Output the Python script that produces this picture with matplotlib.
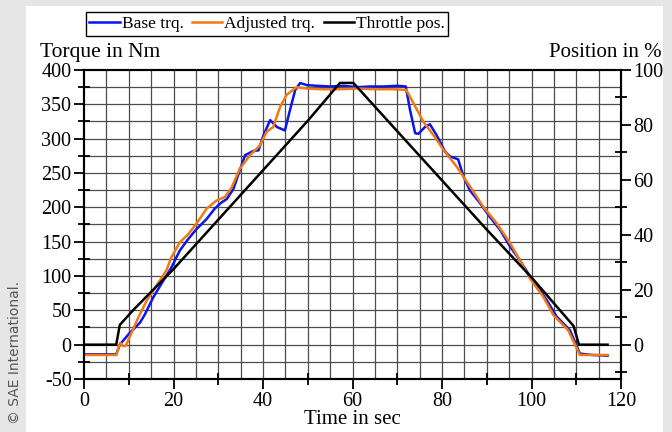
import matplotlib
matplotlib.use("Agg")
import matplotlib.pyplot as plt
from matplotlib.patches import Rectangle
from matplotlib.ticker import MultipleLocator

# Base torque (Nm) over time (s)
t_base = [0, 7.2, 8.0, 10.2, 12.5, 13.6, 15.4, 17.7, 19.5, 21.4, 23.3, 25.1, 27.4,
          29.2, 30.7, 31.9, 33.4, 34.8, 36.0, 37.8, 39.0, 40.1, 41.6, 43.1, 44.9,
          46.0, 47.2, 48.3, 49.8, 52, 55, 58, 61, 64, 67, 70, 71.9, 72.85, 74.0,
          74.7, 76.2, 77.3, 78.8, 80.7, 81.8, 83.6, 84.8, 86.2, 88.5, 90.7, 93.0,
          95.2, 97.4, 99.7, 103.4, 105.6, 108.6, 110.8, 113.5, 117]
base_trq = [-14, -14, 0, 17, 32, 44, 68, 93, 112, 137, 154, 168, 183,
            198, 207, 212, 227, 254, 276, 282, 283, 305, 327, 317, 312,
            341, 371, 381, 378, 377, 376, 377, 375, 376, 376, 377, 376, 342, 308,
            307, 317, 321, 305, 281, 274, 270, 245, 225, 206, 186, 167,
            143, 123, 99, 65, 41, 21, -13, -15, -16]

# Adjusted torque (Nm)
t_adj = [0, 7.2, 8.1, 8.7, 9.3, 10.6, 12.1, 14.0, 16.9, 18.4, 19.5, 21.4, 23.3,
         25.1, 27.4, 29.6, 31.5, 33.0, 34.8, 37.1, 39.3, 40.8, 42.3, 43.8, 45.3,
         47.5, 49.8, 53, 57, 61, 65, 69, 72.0, 73.6, 75.8, 78.1, 80.3, 83.3, 86.3,
         89.2, 92.2, 95.2, 97.4, 99.7, 102.6, 104.9, 108.2, 110.8, 114, 117]
adj_trq = [-15, -15, 3, -2, -2, 17, 39, 64, 93, 108, 127, 149, 161,
           176, 198, 210, 215, 229, 256, 276, 290, 310, 317, 346, 364,
           375, 373, 372, 372, 373, 372, 372, 371, 352, 325, 305, 284, 259, 230,
           201, 177, 148, 123, 96, 70, 43, 21, -15, -15, -15]

# Throttle position (%)
t_thr = [0, 7.2, 8.0, 11, 20, 30, 40, 50, 57.2, 60.2, 70, 80, 90, 100, 109.4, 110.6, 117]
throttle = [0, 0, 7.2, 12.6, 27.5, 45.5, 63.5, 81.5, 95.3, 95.3, 77.7, 59.8, 41.9,
            24.5, 6.8, 0, 0]

plt.rcParams["font.family"] = ["Liberation Serif", "DejaVu Serif"]
plt.rcParams["font.size"] = 14
plt.rcParams["axes.unicode_minus"] = False

fig = plt.figure(figsize=(6.72, 4.32), dpi=100)
fig.patch.set_facecolor("#e6e6e6")
fig.add_artist(Rectangle((26 / 672, 0), (663 - 26) / 672, 1 - 6 / 432,
                         transform=fig.transFigure, facecolor="white",
                         edgecolor="none", zorder=0))

ax = fig.add_axes([84 / 672, 1 - 379 / 432, (621 - 84) / 672, (379 - 70) / 432])
ax.set_xlim(0, 120)
ax.set_ylim(-50, 400)

ax.xaxis.set_major_locator(MultipleLocator(20))
ax.xaxis.set_minor_locator(MultipleLocator(10))
ax.yaxis.set_major_locator(MultipleLocator(50))
ax.yaxis.set_minor_locator(MultipleLocator(25))

# grid every 5 s and every 25 Nm
for x in range(5, 120, 5):
    ax.axvline(x, color="0.3", lw=0.9, zorder=1)
for y in range(-25, 400, 25):
    ax.axhline(y, color="0.3", lw=0.9, zorder=1)

l1, = ax.plot(t_base, base_trq, color="#0a14f0", lw=1.8, zorder=3, label="Base trq.")
l2, = ax.plot(t_adj, adj_trq, color="#f07a12", lw=1.8, zorder=4, label="Adjusted trq.")

ax2 = ax.twinx()
ax2.set_ylim(-12.5, 100)
ax2.yaxis.set_major_locator(MultipleLocator(20))
ax2.yaxis.set_minor_locator(MultipleLocator(10))
l3, = ax2.plot(t_thr, throttle, color="black", lw=1.8, zorder=5, label="Throttle pos.")

for a in (ax, ax2):
    for s in a.spines.values():
        s.set_linewidth(1.5)
    a.tick_params(which="major", direction="out", length=7, width=1.3, pad=2, labelsize=14.5)
    a.tick_params(which="minor", direction="inout", length=8, width=1.3)
ax.tick_params(axis="x", pad=2)

ax.set_xlabel("Time in sec", fontsize=15, labelpad=0)
fig.text(40 / 672, 1 - 57 / 432, "Torque in Nm", fontsize=15.5, va="baseline", ha="left")
fig.text(662 / 672, 1 - 57 / 432, "Position in %", fontsize=15, va="baseline", ha="right")

leg = fig.legend(handles=[l1, l2, l3], loc="center", ncol=3,
                 bbox_to_anchor=(267 / 672, 1 - 24 / 432),
                 frameon=True, fancybox=False, framealpha=1, edgecolor="black",
                 handlelength=1.75, handletextpad=0.1, columnspacing=0.5,
                 borderpad=0.2, borderaxespad=0, fontsize=12.5)
leg.get_frame().set_linewidth(1.0)

fig.text(15 / 672, 1 - 352 / 432, "© SAE International.", rotation=90, fontsize=10,
         family="DejaVu Sans", color="#555555", ha="center", va="center")

fig.savefig("out.png", dpi=100)
